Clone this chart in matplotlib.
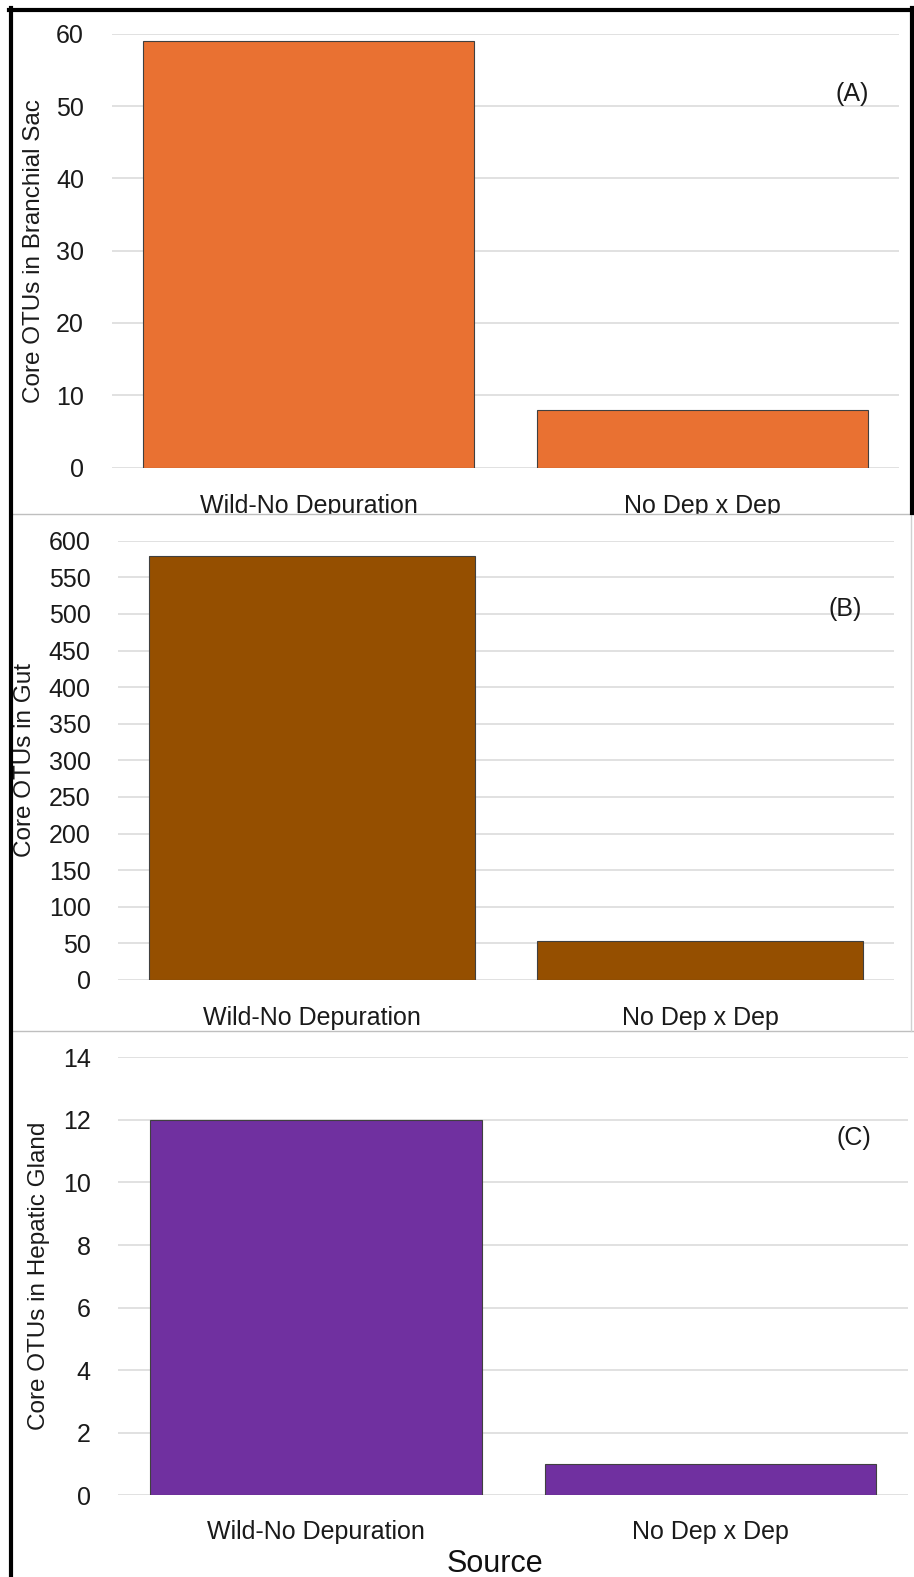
import matplotlib
matplotlib.use("Agg")
import matplotlib.pyplot as plt
from matplotlib.lines import Line2D
from matplotlib.patches import Rectangle

plt.rcParams['font.family'] = ['Liberation Sans', 'DejaVu Sans']

categories = ['Wild-No Depuration', 'No Dep x Dep']
branchial = [59, 8]
gut = [579, 53]
hepatic = [12, 1]

W, H = 914, 1577
fig = plt.figure(figsize=(W / 100, H / 100), dpi=100)


def px_box(left, top, right, bottom):
    return [left / W, 1 - bottom / H, (right - left) / W, (bottom - top) / H]


def panel(box, values, color, ymax, step, ylabel, label_x, tag, tag_xy, xpad):
    ax = fig.add_axes(px_box(*box))
    x = range(len(categories))
    ax.bar(x, values, width=0.84, color=color, edgecolor='#404040',
           linewidth=0.8, zorder=3)
    ax.set_xlim(-0.5, 1.5)
    ax.set_ylim(0, ymax)
    ax.set_yticks(range(0, ymax + 1, step))
    ax.set_xticks(list(x))
    ax.set_xticklabels(categories)
    ax.yaxis.grid(True, color='#d9d9d9', linewidth=1.1, zorder=0)
    ax.set_axisbelow(True)
    for s in ax.spines.values():
        s.set_visible(False)
    ax.tick_params(axis='y', length=0, pad=20, labelsize=18, labelcolor='#1a1a1a')
    ax.tick_params(axis='x', length=0, pad=xpad, labelsize=18, labelcolor='#1a1a1a')
    ax.set_ylabel(ylabel, fontsize=17.5, color='#1a1a1a')
    ax.yaxis.label.set_verticalalignment('center')
    ax.yaxis.set_label_coords(label_x, 0.5)
    fig.text(tag_xy[0] / W, 1 - tag_xy[1] / H, tag, fontsize=18,
             ha='center', va='center', color='#1a1a1a')
    return ax


panel((111.7, 33.7, 899, 467.5), branchial, '#E97132', 60, 10,
      'Core OTUs in Branchial Sac', -0.0987, '(A)', (852, 94), 19)
panel((118.3, 540.7, 894, 980), gut, '#954F00', 600, 50,
      'Core OTUs in Gut', -0.1203, '(B)', (845, 609), 19)
panel((118.3, 1057.3, 908, 1495.3), hepatic, '#7030A0', 14, 2,
      'Core OTUs in Hepatic Gland', -0.1004, '(C)', (854, 1138), 18)

fig.text(495 / W, 1 - 1564 / H, 'Source', fontsize=22,
         ha='center', va='center', color='#111111')

# panel A labels are cut off by the panel B screenshot
fig.patches.append(Rectangle((12 / W, 1 - 528 / H), 1, 14.5 / H,
                             transform=fig.transFigure, facecolor='white',
                             edgecolor='none', zorder=5))


def fline(xs, ys, color, lw):
    fig.lines.append(Line2D([v / W for v in xs], [1 - v / H for v in ys],
                            transform=fig.transFigure, color=color,
                            linewidth=lw, zorder=6))


# separators and frame
fline([11, 914], [513.5, 513.5], '#bfbfbf', 1.0)
fline([11, 913], [1030.7, 1030.7], '#bfbfbf', 1.0)
fline([911, 911], [513.5, 1030.7], '#d0d0d0', 1.0)
fline([9, 914], [9.5, 9.5], 'black', 3.0)
fline([11, 11], [8, 1577], 'black', 3.0)
fline([912, 912], [8, 513], 'black', 3.0)

fig.savefig('out.png', dpi=100)
